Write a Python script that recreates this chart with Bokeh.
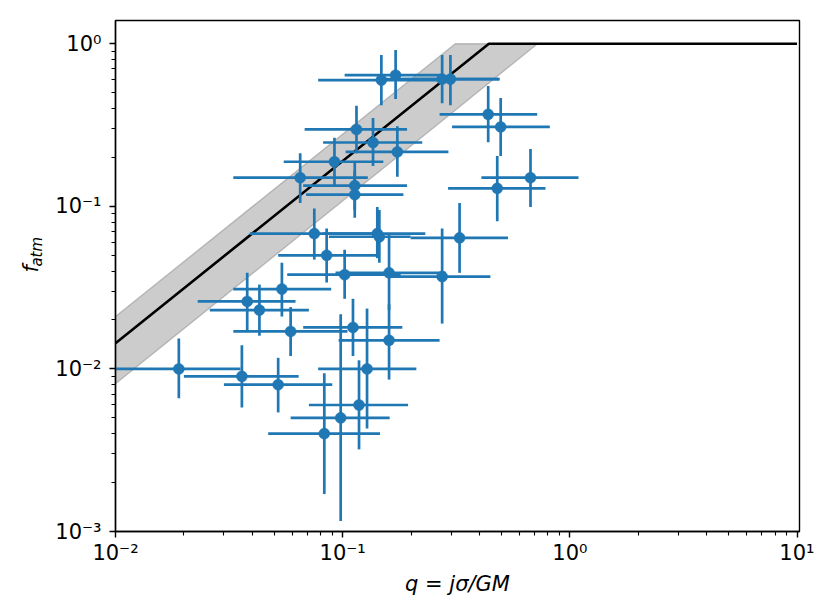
import math
from bokeh.plotting import figure
from bokeh.layouts import row
from bokeh.models import FixedTicker, Range1d, ColumnDataSource
from bokeh.core.properties import value
from bokeh.embed import file_html
from bokeh.resources import INLINE

# ---- data ----
q    = [0.148, 0.171, 0.274, 0.298, 0.115, 0.136, 0.174, 0.092, 0.065, 0.113, 0.113,
        0.437, 0.496, 0.671, 0.479, 0.327, 0.075, 0.142, 0.145, 0.085, 0.102, 0.160, 0.274,
        0.038, 0.043, 0.054, 0.059, 0.111, 0.160, 0.128, 0.118, 0.098, 0.083,
        0.019, 0.036, 0.052]
q_lo = [0.078, 0.102, 0.154, 0.182, 0.068, 0.082, 0.103, 0.055, 0.033, 0.067, 0.069,
        0.267, 0.303, 0.408, 0.291, 0.199, 0.039, 0.082, 0.087, 0.052, 0.057, 0.093, 0.162,
        0.023, 0.026, 0.033, 0.033, 0.067, 0.096, 0.078, 0.071, 0.059, 0.047,
        0.0095, 0.020, 0.030]
q_hi = [0.280, 0.269, 0.490, 0.490, 0.192, 0.224, 0.292, 0.151, 0.129, 0.192, 0.185,
        0.718, 0.816, 1.091, 0.781, 0.534, 0.147, 0.231, 0.199, 0.142, 0.180, 0.284, 0.447,
        0.062, 0.071, 0.089, 0.105, 0.183, 0.267, 0.211, 0.194, 0.161, 0.146,
        0.0355, 0.064, 0.090]
f    = [0.598, 0.641, 0.606, 0.606, 0.297, 0.247, 0.216, 0.188, 0.150, 0.134, 0.118,
        0.368, 0.308, 0.150, 0.129, 0.064, 0.068, 0.068, 0.065, 0.050, 0.038, 0.039, 0.037,
        0.026, 0.023, 0.031, 0.017, 0.018, 0.015, 0.010, 0.006, 0.005, 0.004,
        0.010, 0.009, 0.008]
f_lo = [0.419, 0.457, 0.431, 0.419, 0.212, 0.177, 0.152, 0.132, 0.105, 0.095, 0.085,
        0.248, 0.204, 0.099, 0.081, 0.039, 0.047, 0.048, 0.045, 0.034, 0.027, 0.023, 0.019,
        0.017, 0.016, 0.021, 0.012, 0.012, 0.0086, 0.0043, 0.0032, 0.00116, 0.0017,
        0.0066, 0.0058, 0.0054]
f_hi = [0.852, 0.915, 0.852, 0.852, 0.415, 0.349, 0.311, 0.264, 0.212, 0.188, 0.166,
        0.549, 0.463, 0.225, 0.204, 0.105, 0.097, 0.099, 0.095, 0.073, 0.054, 0.068, 0.073,
        0.039, 0.033, 0.045, 0.024, 0.027, 0.025, 0.0235, 0.0113, 0.0217, 0.0094,
        0.0154, 0.0140, 0.0117]

# model relation and its band
model_q = [0.01, 0.44, 10.0]
model_f = [0.0144, 1.0, 1.0]
band_q = [0.01, 0.313, 0.72]
band_lo = [0.0081, 0.39, 1.0]
band_hi = [0.021, 1.0, 1.0]

x_ticks = [0.01, 0.1, 1.0, 10.0]
x_tick_labels = ["10\u207b\u00b2", "10\u207b\u00b9", "10\u2070", "10\u00b9"]
y_ticks = [0.001, 0.01, 0.1, 1.0]
y_tick_labels = ["10\u207b\u00b3", "10\u207b\u00b2", "10\u207b\u00b9", "10\u2070"]
x_label = "q = j\u03c3/GM"
y_label_main = "f"
y_label_sub = "atm"

BLUE = "#1f77b4"
FS = "21px"
H = 598
LW = 48  # width of the strip holding the y-axis title

# ---- strip with the y-axis title (f with subscript atm) ----
lab = figure(width=LW, height=H, x_range=Range1d(0, LW), y_range=Range1d(0, H),
             output_backend="svg", toolbar_location=None,
             x_axis_location=None, y_axis_location=None,
             min_border_left=0, min_border_right=0, min_border_top=0, min_border_bottom=0)
lab.xgrid.visible = False
lab.ygrid.visible = False
lab.outline_line_color = None
lab.border_fill_color = "white"
lab.background_fill_color = "white"
lab.text(x=[30], y=[H - 295], text=[y_label_main], angle=math.pi / 2,
         text_font=value("DejaVu Sans"), text_font_size=FS, text_font_style="italic",
         text_color="black", text_align="left", text_baseline="alphabetic")
lab.text(x=[36], y=[H - 288], text=[y_label_sub], angle=math.pi / 2,
         text_font=value("DejaVu Sans"), text_font_size="15px", text_font_style="italic",
         text_color="black", text_align="left", text_baseline="alphabetic")

# ---- main plot ----
p = figure(width=814 - LW, height=H, x_axis_type="log", y_axis_type="log",
           x_range=Range1d(0.01, 10.25), y_range=Range1d(0.001, 1.39),
           output_backend="svg", toolbar_location=None,
           min_border_left=115 - LW, min_border_right=15, min_border_top=20, min_border_bottom=67)

p.xgrid.visible = False
p.ygrid.visible = False
p.background_fill_color = "white"
p.border_fill_color = "white"
p.outline_line_color = "black"
p.outline_line_width = 1.4
p.outline_line_alpha = 1.0

def minors(ticks):
    out = []
    for t in ticks:
        for k in range(2, 10):
            out.append(t * k)
    return out

p.xaxis.ticker = FixedTicker(ticks=x_ticks, minor_ticks=minors(x_ticks))
p.yaxis.ticker = FixedTicker(ticks=y_ticks, minor_ticks=minors([0.001, 0.01, 0.1]))
p.xaxis.major_label_overrides = {t: l for t, l in zip(x_ticks, x_tick_labels)}
p.yaxis.major_label_overrides = {t: l for t, l in zip(y_ticks, y_tick_labels)}

for ax in (p.xaxis, p.yaxis):
    ax.axis_line_color = "black"
    ax.axis_line_width = 1.4
    ax.major_tick_line_color = "black"
    ax.minor_tick_line_color = "black"
    ax.major_tick_line_width = 1.4
    ax.minor_tick_line_width = 1.1
    ax.major_tick_out = 6
    ax.major_tick_in = 0
    ax.minor_tick_out = 4
    ax.minor_tick_in = 0
    ax.major_label_text_font = "DejaVu Sans"
    ax.major_label_text_font_size = FS
    ax.major_label_text_color = "black"
    ax.axis_label_text_font = "DejaVu Sans"
    ax.axis_label_text_font_size = FS
    ax.axis_label_text_font_style = "italic"
    ax.axis_label_text_color = "black"

p.xaxis.axis_label = x_label
p.xaxis.major_label_standoff = 3
p.yaxis.major_label_standoff = 8
p.xaxis.axis_label_standoff = 4

# band
poly_x = band_q + band_q[::-1]
poly_y = band_lo + band_hi[::-1]
p.patch(x=poly_x, y=poly_y, fill_color="gray", fill_alpha=0.4,
        line_color="gray", line_alpha=0.45, line_width=1.4)

# model line
p.line(x=model_q, y=model_f, line_color="black", line_width=2.6)

src = ColumnDataSource(dict(q=q, q_lo=q_lo, q_hi=q_hi, f=f, f_lo=f_lo, f_hi=f_hi))
p.segment(x0="q_lo", y0="f", x1="q_hi", y1="f", source=src, line_color=BLUE, line_width=2.7)
p.segment(x0="q", y0="f_lo", x1="q", y1="f_hi", source=src, line_color=BLUE, line_width=2.7)
p.scatter(x="q", y="f", source=src, size=11, marker="circle",
          fill_color=BLUE, line_color=BLUE, line_width=0.5)

layout = row(lab, p, spacing=0)
open("out.html", "w").write(file_html(layout, INLINE))
